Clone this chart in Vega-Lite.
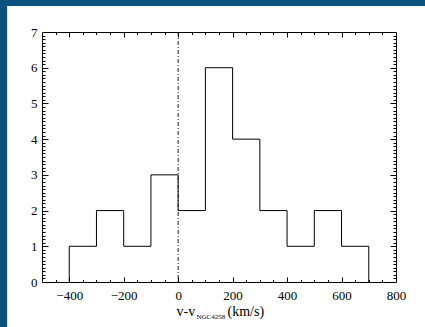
{
  "$schema": "https://vega.github.io/schema/vega-lite/v6.json",
  "width": 354,
  "height": 250,
  "autosize": {"type": "none"},
  "padding": {"left": 42, "top": 32, "right": 29, "bottom": 45},
  "background": "#0c5280",
  "datasets": {
    "hist": [
      {"i": 0, "v": -400, "n": 0},
      {"i": 1, "v": -400, "n": 1},
      {"i": 2, "v": -300, "n": 2},
      {"i": 3, "v": -200, "n": 1},
      {"i": 4, "v": -100, "n": 3},
      {"i": 5, "v": 0, "n": 2},
      {"i": 6, "v": 100, "n": 6},
      {"i": 7, "v": 200, "n": 4},
      {"i": 8, "v": 300, "n": 2},
      {"i": 9, "v": 400, "n": 1},
      {"i": 10, "v": 500, "n": 2},
      {"i": 11, "v": 600, "n": 1},
      {"i": 12, "v": 700, "n": 1},
      {"i": 13, "v": 700, "n": 0}
    ]
  },
  "data": {"name": "hist"},
  "resolve": {"scale": {"x": "independent", "y": "independent"}},
  "layer": [
    {
      "data": {"values": [{"panel": "background"}]},
      "mark": {"type": "rect", "color": "white", "clip": false},
      "encoding": {
        "x": {"datum": -628, "type": "quantitative", "scale": {"domain": [-500, 800], "nice": false, "zero": false},
          "axis": {"orient": "bottom", "zindex": 2, "values": [-400, -200, 0, 200, 400, 600, 800], "ticks": false, "labels": true, "labelPadding": 7, "domain": true,
            "title": "v-v", "titleX": 134, "titleY": 33, "titleAlign": "left", "titleBaseline": "alphabetic", "titleFontSize": 14}},
        "x2": {"datum": 1000},
        "y": {"datum": 7.73, "type": "quantitative", "scale": {"domain": [0, 7], "nice": false, "zero": false},
          "axis": {"orient": "left", "zindex": 2, "values": [0, 1, 2, 3, 4, 5, 6, 7], "ticks": false, "labelPadding": 5, "domain": true, "title": null}},
        "y2": {"datum": -3}
      }
    },
    {
      "mark": {"type": "line", "interpolate": "step-after", "color": "black", "strokeWidth": 1},
      "encoding": {
        "x": {"field": "v", "type": "quantitative", "scale": {"domain": [-500, 800], "nice": false, "zero": false},
          "axis": {"orient": "bottom", "zindex": 2, "values": [-400, -200, 0, 200, 400, 600], "ticks": true, "tickSize": -5, "labels": false, "domain": false,
            "title": "NGC4258", "titleX": 154, "titleY": 36, "titleAlign": "left", "titleBaseline": "alphabetic", "titleFontSize": 7}},
        "y": {"field": "n", "type": "quantitative", "scale": {"domain": [0, 7], "nice": false, "zero": false},
          "axis": {"orient": "left", "zindex": 2, "values": [1, 2, 3, 4, 5, 6], "ticks": true, "tickSize": -6, "labels": false, "domain": false, "title": null}},
        "order": {"field": "i", "type": "quantitative"}
      }
    },
    {
      "data": {"values": [{"ref": "NGC4258"}]},
      "mark": {"type": "rule", "color": "#222222", "strokeWidth": 1, "strokeDash": [4, 2, 1, 2]},
      "encoding": {
        "x": {"datum": 0, "type": "quantitative", "scale": {"domain": [-500, 800], "nice": false, "zero": false},
          "axis": {"orient": "bottom", "zindex": 2, "values": [-450, -350, -300, -250, -150, -100, -50, 50, 100, 150, 250, 300, 350, 450, 500, 550, 650, 700, 750], "ticks": true, "tickSize": -2.5, "labels": false, "domain": false,
            "title": "(km/s)", "titleX": 185, "titleY": 33, "titleAlign": "left", "titleBaseline": "alphabetic", "titleFontSize": 14}}
      }
    },
    {
      "mark": {"type": "point", "opacity": 0},
      "encoding": {
        "x": {"field": "v", "type": "quantitative", "scale": {"domain": [-500, 800], "nice": false, "zero": false},
          "axis": {"orient": "top", "zindex": 2, "values": [-400, -200, 0, 200, 400, 600], "ticks": true, "tickSize": -5, "labels": false, "domain": true, "title": null}},
        "y": {"field": "n", "type": "quantitative", "scale": {"domain": [0, 7], "nice": false, "zero": false},
          "axis": {"orient": "right", "zindex": 2, "values": [1, 2, 3, 4, 5, 6], "ticks": true, "tickSize": -6, "labels": false, "domain": true, "title": null}}
      }
    },
    {
      "mark": {"type": "point", "opacity": 0},
      "encoding": {
        "x": {"field": "v", "type": "quantitative", "scale": {"domain": [-500, 800], "nice": false, "zero": false},
          "axis": {"orient": "top", "zindex": 2, "values": [-450, -350, -300, -250, -150, -100, -50, 50, 100, 150, 250, 300, 350, 450, 500, 550, 650, 700, 750], "ticks": true, "tickSize": -2.5, "labels": false, "domain": false, "title": null}},
        "y": {"field": "n", "type": "quantitative", "scale": {"domain": [0, 7], "nice": false, "zero": false},
          "axis": {"orient": "right", "zindex": 2, "values": [0.1,0.2,0.3,0.4,0.5,0.6,0.7,0.8,0.9,1.1,1.2,1.3,1.4,1.5,1.6,1.7,1.8,1.9,2.1,2.2,2.3,2.4,2.5,2.6,2.7,2.8,2.9,3.1,3.2,3.3,3.4,3.5,3.6,3.7,3.8,3.9,4.1,4.2,4.3,4.4,4.5,4.6,4.7,4.8,4.9,5.1,5.2,5.3,5.4,5.5,5.6,5.7,5.8,5.9,6.1,6.2,6.3,6.4,6.5,6.6,6.7,6.8,6.9], "ticks": true, "tickSize": -3, "labels": false, "domain": false, "title": null}}
      }
    },
    {
      "mark": {"type": "point", "opacity": 0},
      "encoding": {
        "x": {"field": "v", "type": "quantitative", "scale": {"domain": [-500, 800], "nice": false, "zero": false}, "axis": null},
        "y": {"field": "n", "type": "quantitative", "scale": {"domain": [0, 7], "nice": false, "zero": false},
          "axis": {"orient": "left", "zindex": 2, "values": [0.1,0.2,0.3,0.4,0.5,0.6,0.7,0.8,0.9,1.1,1.2,1.3,1.4,1.5,1.6,1.7,1.8,1.9,2.1,2.2,2.3,2.4,2.5,2.6,2.7,2.8,2.9,3.1,3.2,3.3,3.4,3.5,3.6,3.7,3.8,3.9,4.1,4.2,4.3,4.4,4.5,4.6,4.7,4.8,4.9,5.1,5.2,5.3,5.4,5.5,5.6,5.7,5.8,5.9,6.1,6.2,6.3,6.4,6.5,6.6,6.7,6.8,6.9], "ticks": true, "tickSize": -3, "labels": false, "domain": false, "title": null}}
      }
    }
  ],
  "config": {
    "view": {"stroke": null},
    "axis": {
      "grid": false,
      "labelFont": "Liberation Serif",
      "labelFontSize": 13,
      "labelColor": "black",
      "labelFlush": false,
      "labelOverlap": false,
      "titleFont": "Liberation Serif",
      "titleFontWeight": "normal",
      "titleColor": "black",
      "tickColor": "black",
      "tickWidth": 1,
      "domainColor": "black",
      "domainWidth": 1
    }
  }
}
